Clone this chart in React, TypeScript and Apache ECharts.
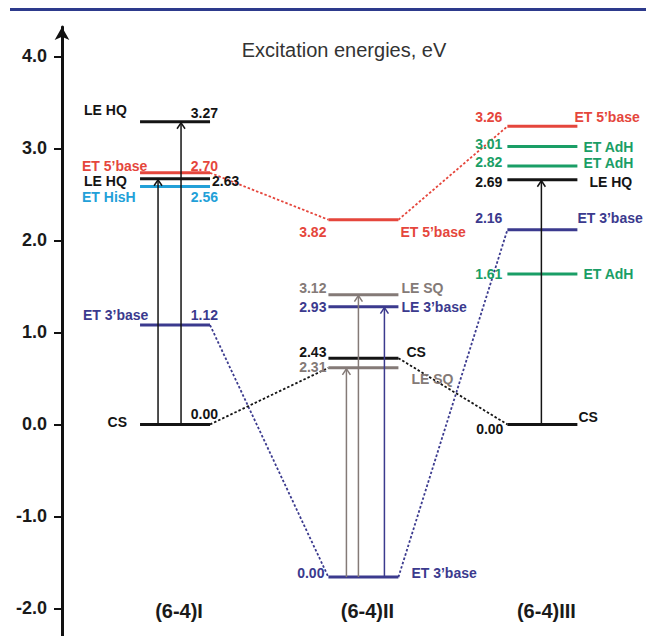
import React, { useEffect, useRef } from 'react';
import * as echarts from 'echarts';

// ---------- data ----------
const columnNames = ['(6-4)I', '(6-4)II', '(6-4)III'];
const columnX = [1, 2, 2.95];
const yTicks = [-2, -1, 0, 1, 2, 3, 4];

// column (6-4)I
const levelsINames = ['CS', 'ET 3’base', 'ET HisH', 'LE HQ', 'ET 5’base', 'LE HQ'];
const levelsIValues = ['0.00', '1.12', '2.56', '2.63', '2.70', '3.27'];
const levelsIEnergy = [0, 1.08, 2.585, 2.67, 2.735, 3.29];

// column (6-4)II
const levelsIINames = ['ET 3’base', 'LE SQ', 'CS', 'LE 3’base', 'LE SQ', 'ET 5’base'];
const levelsIIValues = ['0.00', '2.31', '2.43', '2.93', '3.12', '3.82'];
const levelsIIEnergy = [-1.66, 0.615, 0.72, 1.28, 1.41, 2.225];

// column (6-4)III
const levelsIIINames = ['CS', 'ET AdH', 'ET 3’base', 'LE HQ', 'ET AdH', 'ET AdH', 'ET 5’base'];
const levelsIIIValues = ['0.00', '1.61', '2.16', '2.69', '2.82', '3.01', '3.26'];
const levelsIIIEnergy = [0, 1.635, 2.115, 2.66, 2.81, 3.02, 3.24];

// transitions [fromLevel, toLevel] per column
const transitionsI = [[0, 3], [0, 5]];
const transitionsII = [[0, 1], [0, 4], [0, 3]];
const transitionsIII = [[0, 3]];

// dotted connectors [fromCol, fromLevel, toCol, toLevel]
const connectors = [
  [0, 4, 1, 5], [1, 5, 2, 6],
  [0, 1, 1, 0], [1, 0, 2, 2],
  [0, 0, 1, 1], [1, 2, 2, 0],
];

// ---------- styles / layout ----------
const FONT = 'Arial, "Liberation Sans", Helvetica, sans-serif';
const HALF = 35;
const palette: Record<string, string> = {
  black: '#141414', red: '#e5463c', blue: '#22a0d8', navy: '#3b3a8e', green: '#1a9e66', gray: '#847a77',
};
const colorsI = ['black', 'navy', 'blue', 'black', 'red', 'black'];
const colorsII = ['navy', 'gray', 'black', 'navy', 'gray', 'red'];
const colorsIII = ['black', 'green', 'navy', 'black', 'green', 'green', 'red'];
// [nameDx, nameAlign, nameDy, valueDx, valueAlign, valueDy] relative to column centre
const layoutI: any[] = [
  [-48, 'right', -2, 43, 'right', -10],
  [-92, 'left', -10, 43, 'right', -10],
  [-93, 'left', 10, 43, 'right', 10],
  [-91, 'left', 2, 37, 'left', 2],
  [-93, 'left', -7, 43, 'right', -7],
  [-91, 'left', -12, 43, 'right', -9],
];
const layoutII: any[] = [
  [48, 'left', -4, -39, 'right', -4],
  [48, 'left', 11, -37, 'right', -1],
  [43, 'left', -6, -37, 'right', -6],
  [38, 'left', 0, -37, 'right', 0],
  [38, 'left', -7, -37, 'right', -7],
  [37, 'left', 12, -37, 'right', 12],
];
const layoutIII: any[] = [
  [36, 'left', -7, -39, 'right', 5],
  [41, 'left', 0, -40, 'right', 0],
  [35, 'left', -12, -40, 'right', -12],
  [47, 'left', 2, -40, 'right', 2],
  [41, 'left', -3, -40, 'right', -4],
  [41, 'left', 0, -40, 'right', -3],
  [32, 'left', -9, -40, 'right', -9],
];
const transDx = [[-17, 6], [-17, -5, 21], [-1]];
const transColors = [['black', 'black'], ['gray', 'gray', 'navy'], ['black']];

const columns = [
  { names: levelsINames, values: levelsIValues, energy: levelsIEnergy, colors: colorsI, layout: layoutI, trans: transitionsI },
  { names: levelsIINames, values: levelsIIValues, energy: levelsIIEnergy, colors: colorsII, layout: layoutII, trans: transitionsII },
  { names: levelsIIINames, values: levelsIIIValues, energy: levelsIIIEnergy, colors: colorsIII, layout: layoutIII, trans: transitionsIII },
];

const flatLevels: any[] = [];
columns.forEach((c, ci) =>
  c.names.forEach((n, li) =>
    flatLevels.push({ x: columnX[ci], e: c.energy[li], name: n, value: c.values[li], color: palette[c.colors[li]], layout: c.layout[li] })
  )
);
const flatTrans: any[] = [];
columns.forEach((c, ci) =>
  c.trans.forEach((t, ti) =>
    flatTrans.push({ x: columnX[ci], from: c.energy[t[0]], to: c.energy[t[1]], dx: transDx[ci][ti], color: palette[transColors[ci][ti]] })
  )
);
const flatConn = connectors.map(([fc, fl, tc, tl]) => ({
  x1: columnX[fc], e1: columns[fc].energy[fl], x2: columnX[tc], e2: columns[tc].energy[tl],
  color: palette[columns[fc].colors[fl]],
}));

function txt(x: number, y: number, text: string, fill: string, align: string, size: number, weight = 'bold') {
  return {
    type: 'text', x, y,
    style: {
      text, fill, font: `${weight} ${size}px ${FONT}`,
      align, verticalAlign: 'middle', textAlign: align, textVerticalAlign: 'middle',
    },
  };
}

const option: any = {
  animation: false,
  backgroundColor: '#ffffff',
  grid: { left: 62, right: 0, top: 27, bottom: 0 },
  xAxis: { type: 'value', min: 0.4, max: 3.5, show: false },
  yAxis: {
    type: 'value', min: -2.3, max: 4.32,
    axisLine: { show: true, onZero: false, symbol: ['none', 'arrow'], symbolSize: [11, 13], lineStyle: { color: '#111', width: 3 } },
    axisTick: { show: true, customValues: yTicks, length: 8, lineStyle: { color: '#111', width: 2 } },
    axisLabel: {
      customValues: yTicks, margin: 15, color: '#1a1a1a', fontWeight: 'bold', fontSize: 18, fontFamily: FONT,
      formatter: (v: number) => v.toFixed(1),
    },
    splitLine: { show: false },
  },
  graphic: [
    { type: 'rect', shape: { x: 10, y: 8, width: 636, height: 3 }, style: { fill: '#2d3a8c' } },
    {
      type: 'text', x: 344, y: 50,
      style: { text: 'Excitation energies, eV', fill: '#333', font: `20px ${FONT}`, align: 'center', verticalAlign: 'middle', textAlign: 'center', textVerticalAlign: 'middle' },
    },
  ],
  series: [
    {
      type: 'custom', name: 'connectors', clip: false, z: 1,
      data: flatConn.map((c, i) => [c.x1, c.e1, c.x2, c.e2, i]),
      renderItem: (params: any, api: any) => {
        const c = flatConn[api.value(4)];
        const p1 = api.coord([api.value(0), api.value(1)]);
        const p2 = api.coord([api.value(2), api.value(3)]);
        return {
          type: 'line',
          shape: { x1: p1[0] + HALF, y1: p1[1], x2: p2[0] - HALF, y2: p2[1] },
          style: { stroke: c.color, lineWidth: 1.8, lineDash: [2.5, 2], fill: null },
        };
      },
    },
    {
      type: 'custom', name: 'levels', clip: false, z: 2,
      data: flatLevels.map((l, i) => [l.x, l.e, i]),
      renderItem: (params: any, api: any) => {
        const lv = flatLevels[api.value(2)];
        const p = api.coord([api.value(0), api.value(1)]);
        const [ndx, nal, ndy, vdx, val, vdy] = lv.layout;
        return {
          type: 'group',
          children: [
            { type: 'line', shape: { x1: p[0] - HALF, y1: p[1], x2: p[0] + HALF, y2: p[1] }, style: { stroke: lv.color, lineWidth: 3 } },
            txt(p[0] + ndx, p[1] + ndy, lv.name, lv.color, nal, 14),
            txt(p[0] + vdx, p[1] + vdy, lv.value, lv.color, val, 14),
          ],
        };
      },
    },
    {
      type: 'custom', name: 'transitions', clip: false, z: 3,
      data: flatTrans.map((t, i) => [t.x, t.from, t.to, i]),
      renderItem: (params: any, api: any) => {
        const t = flatTrans[api.value(3)];
        const p0 = api.coord([api.value(0), api.value(1)]);
        const p1 = api.coord([api.value(0), api.value(2)]);
        const X = p0[0] + t.dx;
        const ty = p1[1] + 1;
        return {
          type: 'group',
          children: [
            { type: 'line', shape: { x1: X, y1: p0[1], x2: X, y2: ty }, style: { stroke: t.color, lineWidth: 1.5 } },
            { type: 'polyline', shape: { points: [[X - 4, ty + 6], [X, ty], [X + 4, ty + 6]] }, style: { stroke: t.color, lineWidth: 1.5, fill: null } },
          ],
        };
      },
    },
    {
      type: 'custom', name: 'columns', clip: false, z: 4,
      data: columnNames.map((n, i) => [columnX[i], -2.03, i]),
      renderItem: (params: any, api: any) => {
        const p = api.coord([api.value(0), api.value(1)]);
        return txt(p[0] + 4, p[1], columnNames[api.value(2)], '#1a1a1a', 'center', 20);
      },
    },
  ],
};

export default function App() {
  const ref = useRef<HTMLDivElement>(null);
  useEffect(() => {
    const chart = echarts.init(ref.current!, null, { renderer: 'svg' });
    chart.setOption(option);
    return () => chart.dispose();
  }, []);
  return (
    <div
      ref={ref}
      style={{ position: 'fixed', left: 0, top: 0, width: 646, height: 636, background: '#fff' }}
    />
  );
}
